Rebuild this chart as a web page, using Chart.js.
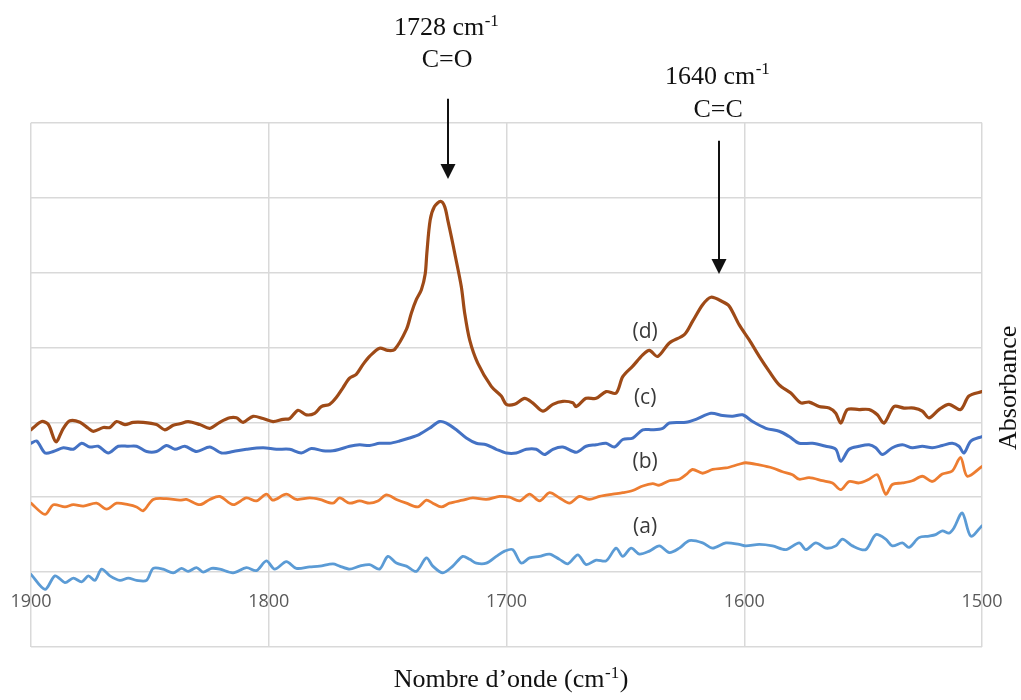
<!DOCTYPE html>
<html><head><meta charset="utf-8">
<script src="https://cdn.jsdelivr.net/npm/chart.js@4.4.1/dist/chart.umd.min.js"></script>
<style>html,body{margin:0;padding:0;background:#fff;}#wrap{width:1021px;height:700px;position:relative;}</style>
</head><body><div id="wrap"><canvas id="c" width="1021" height="700"></canvas></div>
<script>
// ---- data (wavenumber cm-1 / absorbance) ----
const waveA = [1900,1894.1,1889.9,1885.7,1882.2,1878.7,1875.9,1873.1,1870.3,1866.8,1862.6,1859.1,1855.6,1851.4,1848.6,1844.4,1840.2,1836.7,1833.9,1830.4,1827.6,1824.1,1820.6,1815,1809.4,1805.2,1801,1797.5,1792.6,1788.4,1782.8,1778.6,1773,1770.2,1766,1761.8,1757.6,1753.4,1749.9,1746.3,1742.1,1737.9,1733.7,1731,1726.8,1722.6,1718.4,1715.5,1712.7,1708.5,1704.3,1700.8,1697.4,1693.8,1690.3,1686.1,1681.9,1677.7,1674.2,1670,1666.5,1662.3,1658.1,1653.9,1651.1,1647.6,1644.1,1639.9,1635.7,1631.5,1627.3,1623.1,1617.5,1613.3,1607.7,1602.1,1599.3,1593.7,1588.1,1582.5,1576.9,1574.1,1569.9,1565.7,1561.5,1558.7,1554.5,1548.9,1544.7,1540.5,1537.7,1533.5,1530.7,1526.5,1522.3,1519.5,1516.7,1513.9,1511.8,1508.3,1504.7,1500];
const absA  = [-0.03,-0.23,-0.05,-0.14,-0.08,-0.13,-0.05,-0.11,0.04,-0.05,-0.11,-0.08,-0.11,-0.11,0.05,0.04,-0.01,0.05,0.01,0.06,0.00,0.05,0.04,-0.01,0.06,0.02,0.15,0.04,0.14,0.05,0.07,0.08,0.11,0.08,0.04,0.08,0.10,0.04,0.21,0.12,0.08,0.01,0.19,0.08,-0.01,0.08,0.21,0.17,0.12,0.12,0.21,0.28,0.30,0.12,0.19,0.21,0.24,0.17,0.11,0.23,0.10,0.16,0.15,0.32,0.21,0.32,0.24,0.28,0.35,0.26,0.32,0.42,0.39,0.32,0.39,0.37,0.35,0.37,0.35,0.30,0.39,0.30,0.39,0.32,0.35,0.44,0.35,0.30,0.50,0.44,0.35,0.39,0.33,0.46,0.48,0.50,0.55,0.52,0.59,0.79,0.48,0.62];

const waveB = [1900,1894.1,1890.6,1885.7,1882.2,1878,1872.4,1868.2,1864,1859.1,1855.6,1852.8,1848.6,1843,1837.4,1834.6,1829,1824.8,1820.6,1815,1809.4,1805.2,1801,1798.2,1792.6,1788.4,1782.8,1778.6,1773,1770.2,1766,1761.8,1757.6,1754.1,1750.5,1746.3,1742.1,1737.3,1733.7,1731,1727.4,1724,1718.4,1714.2,1708.5,1702.9,1698.7,1694.5,1690.3,1686.1,1681.9,1677.7,1673.5,1669.3,1665.1,1660.9,1655.3,1651.1,1646.9,1642.7,1638.5,1635.7,1631.5,1627.3,1624.5,1621.7,1617.5,1613.3,1607.7,1602.1,1599.3,1593.7,1588.1,1583.9,1579.7,1576.9,1572.7,1567.1,1562.9,1559.4,1555.9,1551.7,1547.5,1544,1540.5,1537.7,1533.5,1529.3,1525.1,1520.9,1516.7,1512.5,1509,1506.2,1500];
const absB  = [0.92,0.77,0.90,0.87,0.90,0.88,0.92,0.84,0.92,0.90,0.87,0.82,0.97,0.98,0.96,0.97,0.90,0.97,1.01,0.90,0.99,0.95,1.04,0.96,1.04,0.97,0.99,0.97,0.92,0.99,0.92,0.95,0.92,0.95,1.03,0.97,0.92,0.87,0.96,0.92,0.87,0.92,0.96,0.99,0.97,1.01,1.00,0.95,1.04,0.95,1.06,0.99,0.92,1.01,0.97,1.01,1.04,1.06,1.09,1.15,1.18,1.16,1.22,1.24,1.30,1.37,1.32,1.37,1.39,1.44,1.46,1.43,1.39,1.34,1.30,1.24,1.26,1.22,1.19,1.10,1.21,1.19,1.24,1.30,1.04,1.17,1.19,1.22,1.28,1.21,1.31,1.35,1.53,1.28,1.41];

const waveC = [1900,1897.6,1894.1,1890.6,1886.4,1882.2,1878.7,1875.2,1871.7,1867.5,1863.3,1859.1,1855.6,1851.4,1847.2,1843,1839.5,1835.3,1830.4,1824.8,1819.9,1815,1809.4,1802.4,1796.8,1791.2,1786.3,1782.1,1777.2,1773,1770.2,1766,1761.8,1757.6,1753.4,1749.2,1745,1740.8,1736.6,1732.4,1728.2,1725.3,1721.1,1716.9,1712.7,1708.5,1704.3,1700.1,1695.9,1691.7,1687.5,1684,1680.5,1676.3,1670.7,1666.5,1662.3,1658.1,1654.6,1651.1,1646.9,1642.7,1638.5,1634.3,1631.5,1624.5,1620.3,1614,1609.1,1604.9,1600.7,1596.5,1590.9,1585.3,1581.1,1576.9,1571.3,1565.7,1561.5,1559.4,1555.9,1551.7,1547.5,1544.7,1541.9,1537.7,1533.5,1529.3,1525.1,1520.9,1516.7,1512.5,1509.7,1507.6,1504.7,1500];
const absC  = [1.72,1.75,1.59,1.61,1.66,1.64,1.72,1.67,1.68,1.59,1.68,1.68,1.68,1.61,1.61,1.69,1.64,1.68,1.61,1.67,1.59,1.61,1.64,1.66,1.64,1.64,1.59,1.65,1.62,1.62,1.64,1.68,1.70,1.69,1.72,1.72,1.75,1.79,1.84,1.92,2.01,1.99,1.90,1.79,1.72,1.70,1.64,1.59,1.59,1.64,1.64,1.57,1.64,1.67,1.60,1.68,1.70,1.72,1.67,1.77,1.79,1.90,1.90,1.92,1.99,2.00,2.04,2.12,2.09,2.08,2.10,2.01,1.92,1.88,1.81,1.72,1.72,1.68,1.64,1.48,1.64,1.68,1.70,1.66,1.57,1.66,1.70,1.66,1.68,1.66,1.69,1.72,1.68,1.59,1.75,1.81];

const waveD = [1900,1895.5,1892.7,1889.5,1886.4,1883.6,1879.4,1875.9,1873.8,1869.6,1866.8,1864,1860.5,1857,1852.8,1847.2,1843.7,1840.2,1837.4,1833.9,1829,1824.8,1820.6,1816.4,1813.6,1810.8,1806.6,1802.4,1798.2,1794,1791.2,1787.7,1784.2,1780.7,1777.9,1774.4,1771.6,1768.8,1766,1763.2,1760.4,1757.6,1753.4,1749.9,1747.1,1742.1,1740,1737.9,1735.8,1734.2,1733.5,1732.1,1730.3,1727.7,1726,1724.7,1723.2,1721.8,1719,1717.6,1715.5,1712.1,1706.4,1702.2,1700.1,1696.6,1692.4,1689,1684.7,1680.5,1676.3,1672.1,1670.7,1666.5,1662.3,1658.1,1653.9,1651.1,1646.9,1642.7,1639.9,1636.4,1631.5,1625.2,1621.7,1617.5,1614,1609.1,1606.3,1602.1,1597.9,1593.7,1589.5,1585.3,1580.4,1576.2,1572.7,1568.5,1564.3,1561.5,1559.4,1556.6,1551.7,1547.5,1544,1541.2,1537,1532.8,1528.6,1525.1,1522.3,1518.1,1513.9,1509,1505.5,1500];
const absD  = [1.90,2.01,1.97,1.74,1.92,2.02,2.00,1.92,1.88,1.93,1.93,2.01,1.97,2.00,2.00,1.97,1.90,1.96,1.98,2.01,1.97,1.92,2.00,2.06,2.06,2.00,2.08,2.05,2.01,2.04,2.05,2.16,2.10,2.12,2.21,2.24,2.33,2.46,2.59,2.64,2.77,2.88,2.99,2.96,2.97,3.24,3.46,3.64,3.77,3.98,4.26,4.70,4.88,4.95,4.88,4.70,4.48,4.26,3.81,3.46,3.10,2.79,2.48,2.35,2.24,2.24,2.32,2.26,2.15,2.24,2.28,2.26,2.21,2.32,2.32,2.41,2.39,2.61,2.75,2.90,2.96,2.88,3.06,3.17,3.35,3.57,3.67,3.61,3.55,3.30,3.10,2.88,2.68,2.50,2.39,2.26,2.27,2.21,2.19,2.12,1.99,2.17,2.17,2.17,2.10,1.99,2.21,2.19,2.19,2.15,2.06,2.17,2.24,2.17,2.35,2.41];

const xTicks = [1900, 1800, 1700, 1600, 1500];
const seriesNames = ['(a)', '(b)', '(c)', '(d)'];
const seriesLabelWave = 1641.7;
const seriesLabelY = [0.60, 1.47, 2.33, 3.20];
const peakNumbers = ['1728', '1640'];
const peakBonds = ['C=O', 'C=C'];
const peakTextWave = [1725.4, 1611.4];
const peakLine1Y = [7.17, 6.52];
const peakLine2Y = [6.74, 6.08];
const arrowWave = [1724.4, 1610.6];
const arrowTopY = [6.32, 5.76];
const arrowTipY = [5.25, 3.98];
const xTitle = 'Nombre d’onde (cm';
const yTitle = 'Absorbance';

const colors = ['#5B9BD5', '#ED7D31', '#4472C4', '#9E4A17'];
const widths = [2.8, 2.8, 3, 3.2];

function pts(w, a) { return w.map((v, i) => ({ x: v, y: a[i] })); }

const SERIF = '"Liberation Serif", "Times New Roman", serif';

function supText(ctx, main, sup, after, cx, baseline, size) {
  const mf = size + 'px ' + SERIF;
  const sf = Math.round(size * 0.64) + 'px ' + SERIF;
  ctx.font = mf; const w1 = ctx.measureText(main).width; const w3 = ctx.measureText(after).width;
  ctx.font = sf; const w2 = ctx.measureText(sup).width;
  const x0 = cx - (w1 + w2 + w3) / 2;
  ctx.textAlign = 'left'; ctx.textBaseline = 'alphabetic';
  ctx.font = mf; ctx.fillText(main, x0, baseline);
  if (after) ctx.fillText(after, x0 + w1 + w2 + 1, baseline);
  ctx.font = sf; ctx.fillText(sup, x0 + w1 + 0.5, baseline - size * 0.36);
}

const annot = {
  id: 'annot',
  afterDraw(chart) {
    const { ctx, scales: { x, y }, chartArea: ca } = chart;
    ctx.save();
    // series labels
    ctx.font = '21px "Open Sans"';
    ctx.fillStyle = '#3a3a3a';
    ctx.textAlign = 'center'; ctx.textBaseline = 'middle';
    seriesNames.forEach((n, i) => ctx.fillText(n, x.getPixelForValue(seriesLabelWave), y.getPixelForValue(seriesLabelY[i])));
    // peak annotations
    ctx.fillStyle = '#111'; ctx.strokeStyle = '#111';
    for (let i = 0; i < peakNumbers.length; i++) {
      const cx = x.getPixelForValue(peakTextWave[i]);
      supText(ctx, peakNumbers[i] + ' cm', '-1', '', cx, y.getPixelForValue(peakLine1Y[i]), 26);
      ctx.font = '26px ' + SERIF; ctx.textAlign = 'center'; ctx.textBaseline = 'alphabetic';
      ctx.fillText(peakBonds[i], cx + 1, y.getPixelForValue(peakLine2Y[i]));
      const ax = Math.round(x.getPixelForValue(arrowWave[i]));
      const top = y.getPixelForValue(arrowTopY[i]);
      const tip = y.getPixelForValue(arrowTipY[i]);
      ctx.lineWidth = 2;
      ctx.beginPath(); ctx.moveTo(ax, top); ctx.lineTo(ax, tip - 12); ctx.stroke();
      ctx.beginPath(); ctx.moveTo(ax - 7.5, tip - 15); ctx.lineTo(ax + 7.5, tip - 15); ctx.lineTo(ax, tip); ctx.closePath(); ctx.fill();
    }
    // axis titles
    supText(ctx, xTitle, '-1', ')', (ca.left + ca.right) / 2 + 4, 687, 26);
    ctx.restore();
    ctx.save();
    ctx.fillStyle = '#111';
    ctx.translate(1009, (ca.top + ca.bottom) / 2 + 3);
    ctx.rotate(-Math.PI / 2);
    ctx.font = '26px ' + SERIF; ctx.textAlign = 'center'; ctx.textBaseline = 'middle';
    ctx.fillText(yTitle, 0, 0);
    ctx.restore();
  }
};

new Chart(document.getElementById('c').getContext('2d'), {
  type: 'line',
  data: {
    datasets: [absA, absB, absC, absD].map((a, i) => ({
      label: seriesNames[i],
      data: pts([waveA, waveB, waveC, waveD][i], a),
      borderColor: colors[i],
      borderWidth: widths[i],
      pointRadius: 0,
      fill: false,
      tension: 0.3,
      borderJoinStyle: 'round',
      borderCapStyle: 'round'
    }))
  },
  options: {
    responsive: false,
    animation: false,
    layout: { padding: { left: 31, right: 39, top: 122.7, bottom: 53 } },
    plugins: { legend: { display: false }, tooltip: { enabled: false } },
    scales: {
      x: {
        type: 'linear', reverse: true, min: 1500, max: 1900,
        position: { y: 0 },
        afterBuildTicks: (s) => { s.ticks = xTicks.map(v => ({ value: v })); },
        afterFit: (s) => { s.paddingLeft = 0; s.paddingRight = 0; },
        ticks: { font: { family: 'Open Sans', size: 18 }, color: '#595959', padding: 19, maxRotation: 0, autoSkip: false,
                 callback: (v) => String(v) },
        grid: { color: '#d9d9d9', lineWidth: 1.5, drawTicks: false },
        border: { display: false }
      },
      y: {
        min: -1, max: 6,
        afterFit: (s) => { s.width = 0; },
        ticks: { display: false, stepSize: 1 },
        grid: { color: '#d9d9d9', lineWidth: 1.5, drawTicks: false },
        border: { display: false }
      }
    }
  },
  plugins: [annot]
});
</script></body></html>
